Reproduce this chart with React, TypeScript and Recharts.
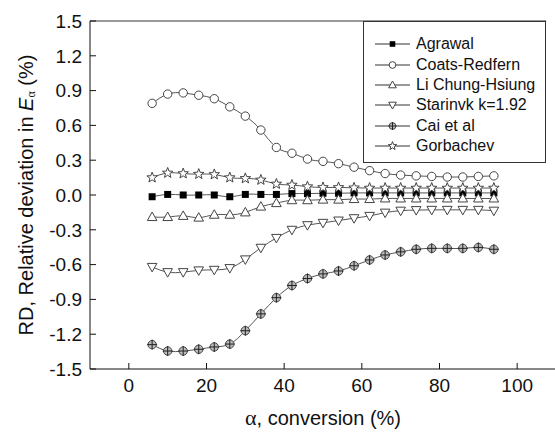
import { Line, LineChart, ReferenceLine, XAxis, YAxis } from "recharts";

const conversion = [6, 10, 14, 18, 22, 26, 30, 34, 38, 42, 46, 50, 54, 58, 62, 66, 70, 74, 78, 82, 86, 90, 94];

const agrawal = [-0.015, 0.005, 0.0, 0.0, 0.0, -0.015, 0.005, 0.005, 0.005, 0.012, 0.012, 0.015, 0.015, 0.018, 0.018, 0.018, 0.018, 0.018, 0.018, 0.018, 0.018, 0.018, 0.018];
const coatsRedfern = [0.79, 0.87, 0.88, 0.86, 0.83, 0.76, 0.68, 0.56, 0.41, 0.36, 0.31, 0.29, 0.27, 0.24, 0.21, 0.185, 0.172, 0.165, 0.16, 0.155, 0.155, 0.16, 0.165];
const liChungHsiung = [-0.19, -0.19, -0.18, -0.195, -0.17, -0.17, -0.15, -0.1, -0.07, -0.045, -0.045, -0.04, -0.04, -0.035, -0.035, -0.03, -0.03, -0.03, -0.03, -0.03, -0.03, -0.03, -0.03];
const starinvk = [-0.62, -0.665, -0.665, -0.65, -0.645, -0.63, -0.555, -0.455, -0.37, -0.3, -0.26, -0.24, -0.22, -0.2, -0.18, -0.152, -0.135, -0.13, -0.128, -0.128, -0.128, -0.128, -0.135];
const caiEtAl = [-1.29, -1.345, -1.345, -1.33, -1.31, -1.285, -1.17, -1.025, -0.885, -0.78, -0.72, -0.68, -0.655, -0.61, -0.56, -0.517, -0.49, -0.468, -0.46, -0.46, -0.46, -0.452, -0.468];
const gorbachev = [0.15, 0.19, 0.185, 0.18, 0.177, 0.15, 0.143, 0.13, 0.095, 0.086, 0.072, 0.065, 0.065, 0.062, 0.06, 0.06, 0.06, 0.06, 0.06, 0.06, 0.06, 0.06, 0.06];

const xTicks = [0, 20, 40, 60, 80, 100];
const yTicks = [-1.5, -1.2, -0.9, -0.6, -0.3, 0, 0.3, 0.6, 0.9, 1.2, 1.5];

type Shape = "square" | "circle" | "up" | "down" | "cross" | "star";

const series: { key: string; name: string; shape: Shape; values: number[] }[] = [
  { key: "agrawal", name: "Agrawal", shape: "square", values: agrawal },
  { key: "coats", name: "Coats-Redfern", shape: "circle", values: coatsRedfern },
  { key: "li", name: "Li Chung-Hsiung", shape: "up", values: liChungHsiung },
  { key: "starinvk", name: "Starinvk k=1.92", shape: "down", values: starinvk },
  { key: "cai", name: "Cai et al", shape: "cross", values: caiEtAl },
  { key: "gorbachev", name: "Gorbachev", shape: "star", values: gorbachev },
];

const data = conversion.map((x, i) => {
  const row: Record<string, number> = { x };
  series.forEach((s) => {
    row[s.key] = s.values[i];
  });
  return row;
});

const FONT = '"Liberation Sans", Arial, sans-serif';
const LINE = "#555";

function starPoints(cx: number, cy: number, r: number) {
  const pts: string[] = [];
  for (let i = 0; i < 10; i++) {
    const rad = i % 2 === 0 ? r : r * 0.42;
    const a = -Math.PI / 2 + (i * Math.PI) / 5;
    pts.push(`${cx + rad * Math.cos(a)},${cy + rad * Math.sin(a)}`);
  }
  return pts.join(" ");
}

function Marker({ shape, cx, cy, s = 1 }: { shape: Shape; cx: number; cy: number; s?: number }) {
  const stroke = "#444";
  if (shape === "square") {
    return <rect x={cx - 3.5 * s} y={cy - 3.5 * s} width={7 * s} height={7 * s} fill="#000" />;
  }
  if (shape === "circle") {
    return <circle cx={cx} cy={cy} r={4.2 * s} fill="#fff" stroke={stroke} strokeWidth={1} />;
  }
  if (shape === "up") {
    return (
      <polygon
        points={`${cx},${cy - 5 * s} ${cx - 4.8 * s},${cy + 3.5 * s} ${cx + 4.8 * s},${cy + 3.5 * s}`}
        fill="#fff"
        stroke={stroke}
      />
    );
  }
  if (shape === "down") {
    return (
      <polygon
        points={`${cx - 4.8 * s},${cy - 3.5 * s} ${cx + 4.8 * s},${cy - 3.5 * s} ${cx},${cy + 5 * s}`}
        fill="#fff"
        stroke={stroke}
      />
    );
  }
  if (shape === "cross") {
    return (
      <g>
        <circle cx={cx} cy={cy} r={4.2 * s} fill="#bbb" stroke={stroke} />
        <path
          d={`M${cx - 5 * s},${cy}H${cx + 5 * s}M${cx},${cy - 5 * s}V${cy + 5 * s}`}
          stroke="#222"
          strokeWidth={1}
        />
      </g>
    );
  }
  return <polygon points={starPoints(cx, cy, 5.5 * s)} fill="#fff" stroke={stroke} />;
}

const renderDot = (shape: Shape) => (props: any) => {
  const { cx, cy, index } = props;
  if (cx == null || cy == null) return <g key={`${shape}-${index}`} />;
  return (
    <g key={`${shape}-${index}`}>
      <Marker shape={shape} cx={cx} cy={cy} />
    </g>
  );
};

function LegendBox() {
  return (
    <div
      style={{
        position: "absolute",
        left: 363,
        top: 21,
        border: "1px solid #333",
        background: "#fff",
        width: 183,
        height: 142,
        boxSizing: "border-box",
        paddingTop: 12,
        fontFamily: FONT,
        fontSize: 16,
        color: "#111",
      }}
    >
      {series.map((s) => (
        <div key={s.key} style={{ display: "flex", alignItems: "center", height: 20.4 }}>
          <svg width={52} height={20} style={{ flex: "none" }}>
            <line x1={11} x2={46} y1={10} y2={10} stroke="#333" strokeWidth={1} />
            <Marker shape={s.shape} cx={28.5} cy={10} s={0.8} />
          </svg>
          <span style={{ whiteSpace: "nowrap" }}>{s.name}</span>
        </div>
      ))}
    </div>
  );
}

function YTitle(props: any) {
  const vb = props.viewBox || { x: 0, y: 21, width: 90, height: 348 };
  const cx = vb.x + 26;
  const cy = vb.y + vb.height / 2;
  return (
    <text
      x={cx}
      y={cy}
      transform={`rotate(-90, ${cx}, ${cy})`}
      textAnchor="middle"
      dominantBaseline="central"
      fontFamily={FONT}
      fontSize={20}
      fill="#111"
    >
      RD, Relative deviation in <tspan fontStyle="italic">E</tspan>
      <tspan fontSize={12} fontFamily="serif" dy={5}>α</tspan>
      <tspan dy={-5}> (%)</tspan>
    </text>
  );
}

function XTitle(props: any) {
  const vb = props.viewBox || { x: 90, y: 369, width: 466, height: 63 };
  return (
    <text
      x={vb.x + vb.width / 2}
      y={vb.y + 56}
      textAnchor="middle"
      fontFamily={FONT}
      fontSize={20}
      fill="#111"
    >
      <tspan fontFamily="serif" fontSize={22}>α</tspan>, conversion (%)
    </text>
  );
}

export default function App() {
  return (
    <div
      style={{
        position: "fixed",
        left: 0,
        top: 0,
        width: 555,
        height: 432,
        overflow: "hidden",
        background: "#fff",
      }}
    >
      <LineChart width={570} height={432} data={data} margin={{ top: 21, right: 14, bottom: 0, left: 0 }}>
        <XAxis
          dataKey="x"
          type="number"
          domain={[-10, 110]}
          ticks={xTicks}
          interval={0}
          height={63}
          tickSize={-6}
          tickMargin={16}
          stroke="#111"
          tick={{ fill: "#111", fontSize: 19, fontFamily: FONT }}
          label={<XTitle />}
        />
        <YAxis
          type="number"
          domain={[-1.5, 1.5]}
          ticks={yTicks}
          interval={0}
          width={90}
          tickSize={-6}
          tickMargin={14}
          stroke="#111"
          tickFormatter={(v: number) => v.toFixed(1)}
          tick={{ fill: "#111", fontSize: 19, fontFamily: FONT }}
          label={<YTitle />}
        />
        <ReferenceLine
          segment={[
            { x: -10, y: 1.5 },
            { x: 107.5, y: 1.5 },
          ]}
          stroke="#333"
          ifOverflow="visible"
        />
        {series.map((s) => (
          <Line
            key={s.key}
            dataKey={s.key}
            name={s.name}
            type="natural"
            stroke={LINE}
            strokeWidth={1}
            dot={renderDot(s.shape)}
            activeDot={false}
            isAnimationActive={false}
          />
        ))}
      </LineChart>
      <LegendBox />
    </div>
  );
}
